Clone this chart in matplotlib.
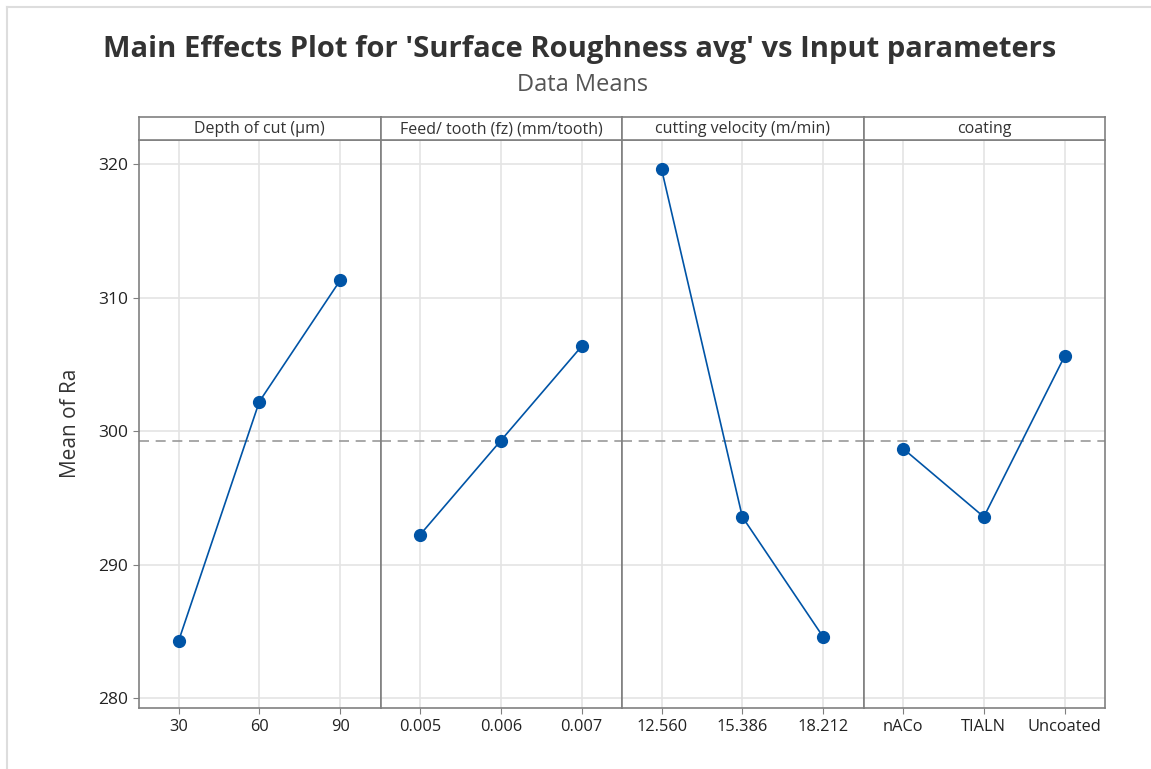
import matplotlib.pyplot as plt
from matplotlib.lines import Line2D

plt.rcParams['font.family'] = ['Open Sans', 'DejaVu Sans']

# factor names and their levels
factors = ['Depth of cut (µm)', 'Feed/ tooth (fz) (mm/tooth)',
           'cutting velocity (m/min)', 'coating']
depth_levels = ['30', '60', '90']
feed_levels = ['0.005', '0.006', '0.007']
velocity_levels = ['12.560', '15.386', '18.212']
coating_levels = ['nACo', 'TIALN', 'Uncoated']

# means of Ra at each level
depth_means = [284.27, 302.21, 311.29]
feed_means = [292.23, 299.29, 306.35]
velocity_means = [319.62, 293.57, 284.58]
coating_means = [298.69, 293.57, 305.61]

grand_mean = 299.27

levels = [depth_levels, feed_levels, velocity_levels, coating_levels]
means = [depth_means, feed_means, velocity_means, coating_means]

blue = '#0054A6'
frame = '#808080'
grid = '#e4e4e4'

fig = plt.figure(figsize=(11.51, 7.69), dpi=100)
W, H = 1151, 769

left, right = 139 / W, 1105 / W
bottom, top = 1 - 708 / H, 1 - 139.5 / H
strip_top = 1 - 116.5 / H
pw = (right - left) / 4

axes = []
for i in range(4):
    ax = fig.add_axes([left + i * pw, bottom, pw, top - bottom],
                      sharey=axes[0] if axes else None)
    axes.append(ax)
    x = list(range(len(levels[i])))
    ax.plot(x, means[i], color=blue, lw=1.2, marker='o', ms=8.5,
            markerfacecolor=blue, markeredgecolor=blue, zorder=3)
    ax.axhline(grand_mean, color='#999999', lw=1.2, ls=(0, (6, 4)), zorder=2)
    ax.set_xlim(-0.49, 2.5)
    ax.set_xticks(x)
    ax.set_xticklabels(levels[i], fontsize=11.8, color='#222222')
    ax.grid(True, color=grid, lw=1.2, zorder=0)
    ax.set_axisbelow(True)
    for s in ax.spines.values():
        s.set_color(frame)
        s.set_linewidth(1.2)
    ax.tick_params(axis='x', length=4, color=frame, pad=4)
    if i == 0:
        ax.tick_params(axis='y', length=4, color=frame, labelsize=12.5,
                       labelcolor='#222222', pad=4)
        ax.set_ylabel('Mean of Ra', fontsize=15, color='#333333', labelpad=12)
    else:
        ax.tick_params(axis='y', length=0, labelleft=False)

    # strip header
    sax = fig.add_axes([left + i * pw, top, pw, strip_top - top])
    sax.set_xticks([])
    sax.set_yticks([])
    for s in sax.spines.values():
        s.set_color(frame)
        s.set_linewidth(1.2)
    sax.text(0.5, 0.45, factors[i], ha='center', va='center',
             fontsize=11.5, color='#333333', transform=sax.transAxes)

axes[0].set_ylim(279.25, 321.85)
axes[0].set_yticks([280, 290, 300, 310, 320])

fig.text(580 / W, 1 - 49 / H, "Main Effects Plot for 'Surface Roughness avg' vs Input parameters",
         ha='center', va='center', fontsize=21, fontweight='bold', color='#333333')
fig.text(583 / W, 1 - 85 / H, 'Data Means', ha='center', va='center',
         fontsize=17, color='#555555')

# light outer frame lines (top and left)
fig.add_artist(Line2D([7 / W, 1], [1 - 7 / H, 1 - 7 / H], color='#dddddd', lw=1.5,
                      transform=fig.transFigure))
fig.add_artist(Line2D([7 / W, 7 / W], [0, 1 - 7 / H], color='#dddddd', lw=1.5,
                      transform=fig.transFigure))

fig.savefig('out.png', dpi=100)
